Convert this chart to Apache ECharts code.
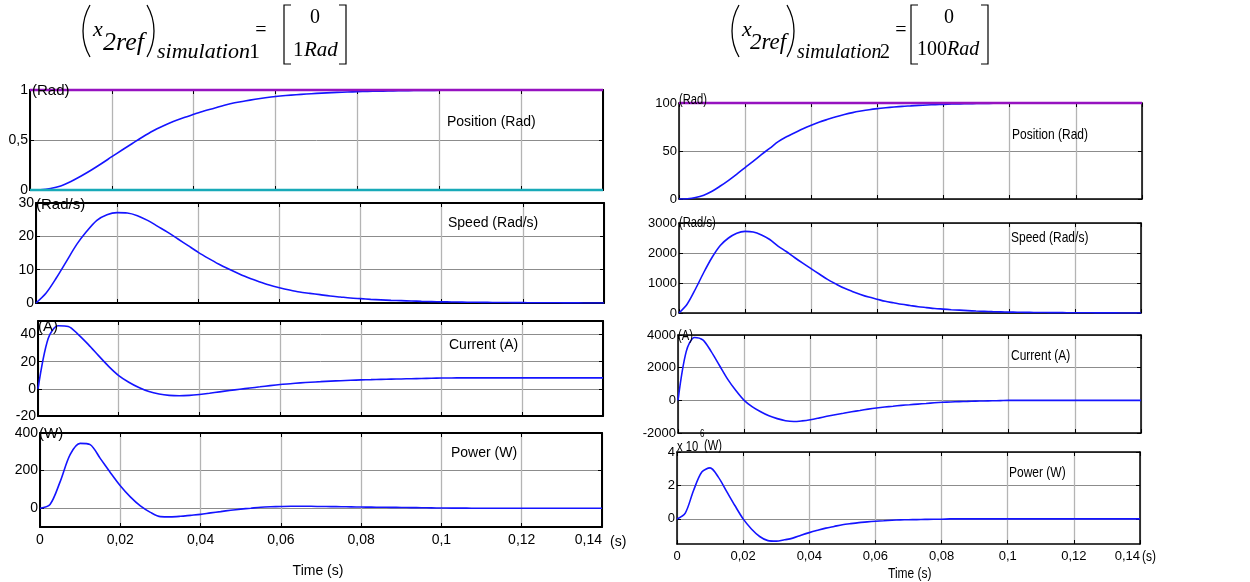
<!DOCTYPE html>
<html>
<head>
<meta charset="utf-8">
<title>Position / Speed / Current / Power</title>
<style>
  html, body { margin: 0; padding: 0; background: #fff; }
  #chart { width: 1250px; height: 582px; }
</style>
</head>
<body>
<div id="chart"></div>
<script src="https://cdn.jsdelivr.net/npm/echarts@6.0.0/dist/echarts.min.js"></script>
<script>
;(function () {
    'use strict';

    // 时间采样 (s), 每 2.5 ms 一个点
    var times = [0, 0.0025, 0.005, 0.0075, 0.01, 0.0125, 0.015, 0.0175, 0.02, 0.0225,
                 0.025, 0.0275, 0.03, 0.0325, 0.035, 0.0375, 0.04, 0.0425, 0.045, 0.0475,
                 0.05, 0.0525, 0.055, 0.0575, 0.06, 0.0625, 0.065, 0.0675, 0.07, 0.0725,
                 0.075, 0.0775, 0.08, 0.0825, 0.085, 0.0875, 0.09, 0.0925, 0.095, 0.0975,
                 0.1, 0.1025, 0.105, 0.1075, 0.11, 0.1125, 0.115, 0.1175, 0.12, 0.1225,
                 0.125, 0.1275, 0.13, 0.1325, 0.135, 0.1375, 0.14];
    var refTimes = [0, 0.14];

    // simulation 1 (x2ref = 1 Rad)
    var pos1 = [0, 0.003, 0.015, 0.04, 0.085, 0.14, 0.2, 0.265, 0.333, 0.4,
                0.465, 0.53, 0.59, 0.64, 0.685, 0.723, 0.757, 0.79, 0.818, 0.847,
                0.872, 0.89, 0.907, 0.922, 0.935, 0.945, 0.953, 0.96, 0.966, 0.971,
                0.976, 0.98, 0.983, 0.986, 0.988, 0.99, 0.992, 0.994, 0.995, 0.996,
                0.997, 0.998, 0.998, 0.999, 0.999, 0.999, 1, 1, 1, 1,
                1, 1, 1, 1, 1, 1, 1];
    var spd1 = [0, 3, 7.5, 12.5, 17.5, 21.5, 24.8, 26.5, 27.1, 27,
                26.2, 24.8, 23, 21.2, 19.2, 17.2, 15.2, 13.4, 11.7, 10.2,
                8.8, 7.5, 6.4, 5.4, 4.6, 3.9, 3.3, 2.9, 2.5, 2.1,
                1.8, 1.5, 1.3, 1.1, 0.95, 0.8, 0.7, 0.6, 0.5, 0.42,
                0.35, 0.3, 0.26, 0.22, 0.2, 0.17, 0.15, 0.12, 0.1, 0.09,
                0.07, 0.06, 0.05, 0.03, 0.02, 0.01, 0];
    var cur1 = [0, 37, 46.5, 46, 40, 32.6, 24.5, 16.6, 9.8, 4.9,
                1, -2, -3.8, -4.8, -5.1, -4.8, -4.1, -3.2, -2.2, -1.2,
                -0.3, 0.6, 1.5, 2.4, 3.2, 3.8, 4.4, 4.9, 5.3, 5.7,
                6, 6.3, 6.6, 6.8, 7, 7.2, 7.3, 7.5, 7.6, 7.8,
                8, 8.05, 8.1, 8.1, 8.1, 8.1, 8.1, 8.1, 8.1, 8.1,
                8.1, 8.1, 8.1, 8.1, 8.1, 8.1, 8.1];
    var pow1 = [0, 20, 140, 285, 345, 338, 265, 190, 119, 60,
                12, -22, -45, -46, -43, -38, -33, -25, -18, -11,
                -5, 0, 5, 7.5, 9, 10, 10, 10, 9, 8.5,
                8, 7, 6, 5.5, 5, 4.5, 4, 3.3, 2.6, 1.8,
                1, 0.6, 0.3, 0.1, 0, 0, 0, 0, 0, 0,
                0, 0, 0, 0, 0, 0, 0];
    var refPos1 = [1, 1];
    var zeroPos1 = [0, 0];

    // simulation 2 (x2ref = 100 Rad)
    var pos2 = [0, 0.3, 1.5, 4, 8, 13.5, 19.5, 26, 32.8, 39.5,
                46.5, 53, 59.7, 64.8, 69, 73.2, 76.9, 80.2, 83, 85.7,
                88, 90, 91.6, 93, 94.1, 95, 95.8, 96.5, 97, 97.5,
                97.9, 98.3, 98.6, 98.9, 99.1, 99.3, 99.45, 99.6, 99.7, 99.75,
                99.8, 99.85, 99.9, 99.9, 99.95, 100, 100, 100, 100, 100,
                100, 100, 100, 100, 100, 100, 100];
    var spd2 = [0, 300, 800, 1350, 1850, 2250, 2500, 2660, 2720, 2700,
                2600, 2450, 2230, 2050, 1850, 1660, 1480, 1300, 1120, 970,
                830, 720, 620, 530, 460, 390, 340, 290, 250, 210,
                180, 150, 130, 110, 95, 80, 65, 55, 45, 37,
                30, 26, 22, 19, 16, 14, 12, 10, 8, 7,
                6, 5, 4, 3, 2, 1, 0];
    var cur2 = [0, 3000, 3850, 3700, 3000, 2150, 1300, 600, 0, -400,
                -700, -950, -1120, -1250, -1300, -1260, -1190, -1090, -980, -880,
                -790, -700, -620, -540, -470, -410, -360, -310, -270, -230,
                -190, -150, -120, -100, -80, -65, -50, -40, -30, -15,
                0, 0, 0, 0, 0, 0, 0, 0, 0, 0,
                0, 0, 0, 0, 0, 0, 0];
    var pow2 = [0, 0.35, 1.7, 2.8, 3.05, 2.5, 1.65, 0.8, 0, -0.6,
                -1.05, -1.3, -1.33, -1.25, -1.15, -0.98, -0.82, -0.68, -0.55, -0.45,
                -0.35, -0.28, -0.22, -0.18, -0.14, -0.11, -0.08, -0.06, -0.05, -0.04,
                -0.03, -0.02, -0.02, 0, 0, 0, 0, 0, 0, 0,
                0, 0, 0, 0, 0, 0, 0, 0, 0, 0,
                0, 0, 0, 0, 0, 0, 0];
    var refPos2 = [100, 100];

    // 刻度
    var xTicks = [0, 0.02, 0.04, 0.06, 0.08, 0.1, 0.12, 0.14];
    var posTicks1 = [0, 0.5, 1];
    var spdTicks1 = [0, 10, 20, 30];
    var curTicks1 = [-20, 0, 20, 40];
    var powTicks1 = [0, 200, 400];
    var posTicks2 = [0, 50, 100];
    var spdTicks2 = [0, 1000, 2000, 3000];
    var curTicks2 = [-2000, 0, 2000, 4000];
    var powTicks2 = [0, 2, 4];

    var sans = '"Liberation Sans", Arial, sans-serif';
    var serif = '"Liberation Serif", "Times New Roman", serif';
    var blue = '#1414ff';

    // 八个子图
    var panels = [
        {box: [30, 90, 573, 100],  y: [0, 1],        ticks: posTicks1, data: pos1, lw: 2,   font: 14},
        {box: [36, 203, 568, 100], y: [0, 30],       ticks: spdTicks1, data: spd1, lw: 2,   font: 14},
        {box: [38, 321, 565, 95],  y: [-20, 50],     ticks: curTicks1, data: cur1, lw: 2,   font: 14},
        {box: [40, 433, 562, 94],  y: [-100, 400],   ticks: powTicks1, data: pow1, lw: 2,   font: 14, bottom: true},
        {box: [679, 103, 463, 96], y: [0, 100],      ticks: posTicks2, data: pos2, lw: 1.5, font: 13},
        {box: [679, 223, 462, 90], y: [0, 3000],     ticks: spdTicks2, data: spd2, lw: 1.5, font: 13},
        {box: [678, 335, 463, 98], y: [-2000, 4000], ticks: curTicks2, data: cur2, lw: 1.5, font: 13},
        {box: [677, 452, 463, 92], y: [-1.5, 4],     ticks: powTicks2, data: pow2, lw: 1.5, font: 13, bottom: true}
    ];

    function comma(v) {
        return String(v).replace('.', ',');
    }

    function pairs(xs, ys) {
        var out = [];
        for (var i = 0; i < xs.length; i++) {
            out.push([xs[i], ys[i]]);
        }
        return out;
    }

    var grids = [], xAxes = [], yAxes = [], series = [];

    panels.forEach(function (p, i) {
        grids.push({left: p.box[0], top: p.box[1], width: p.box[2], height: p.box[3], containLabel: false});

        var line = {show: true, onZero: false, lineStyle: {color: '#000', width: p.lw}};
        var tick = {show: true, inside: true, length: 4, customValues: xTicks, lineStyle: {color: '#000', width: 1}};

        // 下方x轴
        xAxes.push({
            type: 'value', gridIndex: i, min: 0, max: 0.14,
            axisLine: line,
            axisTick: tick,
            axisLabel: {
                show: !!p.bottom, customValues: xTicks, margin: 6, alignMaxLabel: 'right',
                color: '#000', fontSize: p.font, fontFamily: sans,
                formatter: comma
            },
            splitLine: {show: true, lineStyle: {color: '#b4b4b4', width: 1.3}}
        });
        // 上方x轴 (只有刻度)
        xAxes.push({
            type: 'value', gridIndex: i, min: 0, max: 0.14, position: 'top',
            axisLine: line, axisTick: tick,
            axisLabel: {show: false}, splitLine: {show: false}
        });

        var ytick = {show: true, inside: true, length: 4, customValues: p.ticks, lineStyle: {color: '#000', width: 1}};
        // 左侧y轴
        yAxes.push({
            type: 'value', gridIndex: i, min: p.y[0], max: p.y[1],
            axisLine: line,
            axisTick: ytick,
            axisLabel: {
                customValues: p.ticks, margin: 2,
                color: '#000', fontSize: p.font, fontFamily: sans,
                formatter: comma
            },
            splitLine: {show: true, lineStyle: {color: '#8c8c8c', width: 1}}
        });
        // 右侧y轴
        yAxes.push({
            type: 'value', gridIndex: i, min: p.y[0], max: p.y[1], position: 'right',
            axisLine: line, axisTick: ytick,
            axisLabel: {show: false}, splitLine: {show: false}
        });

        series.push({
            type: 'line',
            xAxisIndex: 2 * i, yAxisIndex: 2 * i,
            data: pairs(times, p.data),
            showSymbol: false,
            smooth: 0.3,
            lineStyle: {color: blue, width: 1.6},
            z: 3
        });
    });

    // 参考线
    series.push({
        type: 'line', xAxisIndex: 0, yAxisIndex: 0, data: pairs(refTimes, refPos1),
        showSymbol: false, clip: false, lineStyle: {color: '#9612c0', width: 2.5}, z: 4
    });
    series.push({
        type: 'line', xAxisIndex: 0, yAxisIndex: 0, data: pairs(refTimes, zeroPos1),
        showSymbol: false, clip: false, lineStyle: {color: '#18aab8', width: 2.5}, z: 4
    });
    series.push({
        type: 'line', xAxisIndex: 8, yAxisIndex: 8, data: pairs(refTimes, refPos2),
        showSymbol: false, clip: false, lineStyle: {color: '#9612c0', width: 2.5}, z: 4
    });

    // 文字
    function txt(x, y, s, font, align, sx) {
        return {
            type: 'text', x: x, y: y, z: 10, scaleX: sx || 1,
            style: {text: s, font: font, fill: '#000', textAlign: align || 'left', textVerticalAlign: 'middle'}
        };
    }

    // 公式里的括号
    function paren(x0, x1, y0, y1, left) {
        var h = (y1 - y0) / 2, s = x1 - x0;
        var r = (h * h + s * s) / (2 * s);
        var a = Math.asin(h / r);
        var cx = left ? x0 + r : x1 - r;
        return {
            type: 'arc', z: 10,
            shape: {cx: cx, cy: y0 + h, r: r,
                    startAngle: left ? Math.PI - a : -a, endAngle: left ? Math.PI + a : a},
            style: {stroke: '#000', lineWidth: 1.3, fill: null}
        };
    }

    function bracket(x0, x1, y0, y1, left) {
        var pts = left ? [[x1, y0], [x0, y0], [x0, y1], [x1, y1]] : [[x0, y0], [x1, y0], [x1, y1], [x0, y1]];
        return {type: 'polyline', z: 10, shape: {points: pts}, style: {stroke: '#000', lineWidth: 1.2, fill: null}};
    }

    var it = function (n) { return 'italic ' + n + 'px ' + serif; };
    var up = function (n) { return n + 'px ' + serif; };
    var sq = 0.8;   // 右图文字较窄

    var graphics = [
        // 公式 1
        paren(83, 90, 5, 57, true), paren(147, 154, 5, 57, false),
        txt(93, 30, 'x', it(22)),
        txt(103, 43, '2ref', it(26)),
        txt(157, 52, 'simulation', it(22)),
        txt(249, 52, '1', up(22)),
        txt(261, 31, '=', up(20), 'center'),
        bracket(284, 291, 5, 64, true), bracket(339, 346, 5, 64, false),
        txt(315, 18, '0', up(20), 'center'),
        txt(293, 50, '1', up(21)),
        txt(304, 50, 'Rad', it(21)),

        // 公式 2
        paren(732, 739, 5, 57, true), paren(787, 794, 5, 57, false),
        txt(742, 30, 'x', it(22)),
        txt(750, 43, '2ref', it(23)),
        txt(797, 53, 'simulation', it(20)),
        txt(880, 53, '2', up(20)),
        txt(901, 31, '=', up(20), 'center'),
        bracket(911, 918, 5, 64, true), bracket(981, 988, 5, 64, false),
        txt(949, 18, '0', up(20), 'center'),
        txt(917, 50, '100', up(20)),
        txt(947, 50, 'Rad', it(20)),

        // 左图文字
        txt(32, 91, '(Rad)', '15px ' + sans),
        txt(36, 205, '(Rad/s)', '15px ' + sans),
        txt(38, 327, '(A)', '15px ' + sans),
        txt(39, 434, '(W)', '15px ' + sans),
        txt(447, 122, 'Position (Rad)', '14px ' + sans),
        txt(448, 223, 'Speed (Rad/s)', '14px ' + sans),
        txt(449, 345, 'Current (A)', '14px ' + sans),
        txt(451, 453, 'Power (W)', '14px ' + sans),
        txt(610, 542, '(s)', '14px ' + sans),
        txt(318, 571, 'Time (s)', '14px ' + sans, 'center'),

        // 右图文字
        txt(679, 100, '(Rad)', '14px ' + sans, 'left', sq),
        txt(679, 223, '(Rad/s)', '14px ' + sans, 'left', sq),
        txt(678, 336, '(A)', '14px ' + sans, 'left', sq),
        txt(677, 447, 'x 10', '14px ' + sans, 'left', sq),
        txt(700, 434, '6', '10px ' + sans, 'left', sq),
        txt(704, 446, '(W)', '14px ' + sans, 'left', sq),
        txt(1012, 135, 'Position (Rad)', '15px ' + sans, 'left', sq),
        txt(1011, 238, 'Speed (Rad/s)', '15px ' + sans, 'left', sq),
        txt(1011, 356, 'Current (A)', '15px ' + sans, 'left', sq),
        txt(1009, 473, 'Power (W)', '15px ' + sans, 'left', sq),
        txt(1142, 557, '(s)', '15px ' + sans, 'left', sq),
        txt(888, 574, 'Time (s)', '15px ' + sans, 'left', sq)
    ];

    var option = {
        backgroundColor: '#fff',
        animation: false,
        grid: grids,
        xAxis: xAxes,
        yAxis: yAxes,
        series: series,
        graphic: graphics
    };

    var chart = echarts.init(document.getElementById('chart'), null, {renderer: 'canvas'});
    chart.setOption(option);
})();
</script>
</body>
</html>
